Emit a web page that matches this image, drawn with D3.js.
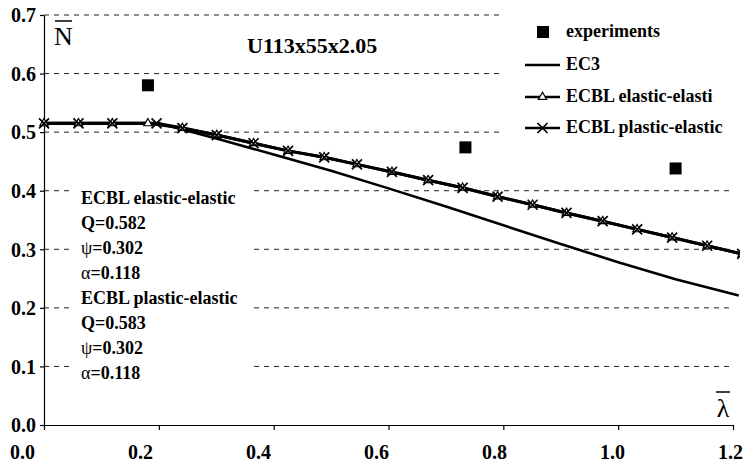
<!DOCTYPE html>
<html>
<head>
<meta charset="utf-8">
<script src="https://cdn.jsdelivr.net/npm/d3@7"></script>
<style>
  body { margin: 0; background: #fff; }
  text { font-family: "Liberation Serif", "DejaVu Serif", serif; fill: #000; }
</style>
</head>
<body>
<div id="chart"></div>
<script>
// values
const xTicks = [0, 0.2, 0.4, 0.6, 0.8, 1.0, 1.2];
const yTicks = [0, 0.1, 0.2, 0.3, 0.4, 0.5, 0.6, 0.7];

const experiments = [[0.181, 0.580], [0.734, 0.474], [1.100, 0.438]];

const ec3 = [[0, 0.515], [0.2, 0.515], [0.3, 0.489], [0.4, 0.462], [0.5, 0.434], [0.6, 0.404],
  [0.7, 0.373], [0.8, 0.341], [0.9, 0.309], [1.0, 0.278], [1.1, 0.249], [1.21, 0.221]];

const ecblElastic = [[0, 0.515], [0.060, 0.515], [0.119, 0.515], [0.181, 0.515], [0.241, 0.507],
  [0.301, 0.495], [0.365, 0.481], [0.425, 0.468], [0.488, 0.457], [0.545, 0.445], [0.606, 0.432],
  [0.669, 0.418], [0.729, 0.405], [0.790, 0.390], [0.851, 0.376], [0.910, 0.362], [0.973, 0.348],
  [1.033, 0.334], [1.094, 0.320], [1.155, 0.306], [1.216, 0.292]];

const ecblPlastic = [[0, 0.515], [0.060, 0.515], [0.119, 0.515], [0.196, 0.515], [0.241, 0.507],
  [0.301, 0.495], [0.365, 0.481], [0.425, 0.468], [0.488, 0.457], [0.545, 0.445], [0.606, 0.432],
  [0.669, 0.418], [0.729, 0.405], [0.790, 0.390], [0.851, 0.376], [0.910, 0.362], [0.973, 0.348],
  [1.033, 0.334], [1.094, 0.320], [1.155, 0.306], [1.216, 0.292]];

const legendItems = ["experiments", "EC3", "ECBL elastic-elasti", "ECBL plastic-elastic"];
const noteLines = [
  ["", "ECBL elastic-elastic"], ["", "Q=0.582"], ["\u03C8", "=0.302"], ["\u03B1", "=0.118"],
  ["", "ECBL plastic-elastic"], ["", "Q=0.583"], ["\u03C8", "=0.302"], ["\u03B1", "=0.118"]
];

const serif = '"Liberation Serif", "DejaVu Serif", serif';
const width = 746, height = 468;
const svg = d3.select("#chart").append("svg")
  .attr("width", width).attr("height", height);

const x = d3.scaleLinear().domain([0, 1.2]).range([44, 733]);
const y = d3.scaleLinear().domain([0, 0.7]).range([425, 15]);
// the tick labels in the scan sit on a slightly wider spread than the ticks
const xLab = d3.scaleLinear().domain([0, 1.2]).range([22, 730]);

svg.append("clipPath").attr("id", "plot")
  .append("rect").attr("x", 0).attr("y", 0).attr("width", 740).attr("height", 430);

// gridlines
svg.append("g").selectAll("line")
  .data(yTicks.filter(d => d > 0))
  .join("line")
  .attr("x1", x(0)).attr("x2", x(1.2))
  .attr("y1", d => y(d)).attr("y2", d => y(d))
  .attr("stroke", "#222").attr("stroke-width", 1)
  .attr("stroke-dasharray", "5,5");

// white boxes behind the text blocks hide the gridlines
svg.append("rect").attr("x", 503).attr("y", 0).attr("width", 243).attr("height", 150).attr("fill", "#fff");
svg.append("rect").attr("x", 73).attr("y", 182).attr("width", 181).attr("height", 212).attr("fill", "#fff");

// axes
const gx = svg.append("g").attr("transform", `translate(0,${y(0)})`)
  .call(d3.axisBottom(x).tickValues(xTicks).tickSize(5).tickSizeOuter(0).tickFormat(""));
gx.selectAll("path, line").attr("stroke", "#000").attr("stroke-width", 1.2);

const gxl = svg.append("g").attr("transform", `translate(0,${y(0)})`)
  .call(d3.axisBottom(xLab).tickValues(xTicks).tickSize(0).tickFormat(d3.format(".1f")));
gxl.select(".domain").remove();
gxl.selectAll("text").attr("y", 34).attr("dy", 0)
  .style("font-family", serif).style("font-weight", "bold").style("font-size", "20px");

const gy = svg.append("g").attr("transform", `translate(${x(0)},0)`)
  .call(d3.axisLeft(y).tickValues(yTicks).tickSize(4).tickSizeOuter(0).tickPadding(4).tickFormat(d3.format(".1f")));
gy.selectAll("path, line").attr("stroke", "#000").attr("stroke-width", 1.2);
gy.selectAll("text").attr("dy", "0.34em")
  .style("font-family", serif).style("font-weight", "bold").style("font-size", "20px");

// lines
const line = d3.line().x(d => x(d[0])).y(d => y(d[1]));
const plot = svg.append("g").attr("clip-path", "url(#plot)");

plot.append("path").datum(ec3).attr("d", line)
  .attr("fill", "none").attr("stroke", "#000").attr("stroke-width", 2.6);
plot.append("path").datum(ecblElastic).attr("d", line)
  .attr("fill", "none").attr("stroke", "#000").attr("stroke-width", 3);
plot.append("path").datum(ecblPlastic).attr("d", line)
  .attr("fill", "none").attr("stroke", "#000").attr("stroke-width", 3);

const triangle = d3.symbol().type(d3.symbolTriangle).size(30);
function drawTri(g, px, py) {
  g.append("path").attr("d", triangle())
    .attr("transform", `translate(${px},${py})`)
    .attr("fill", "#fff").attr("stroke", "#000").attr("stroke-width", 1.2);
}
function drawCross(g, px, py) {
  const r = 5;
  g.append("path").attr("d", `M${px - r},${py - r}L${px + r},${py + r}M${px - r},${py + r}L${px + r},${py - r}`)
    .attr("stroke", "#000").attr("stroke-width", 1.7).attr("fill", "none");
}

ecblElastic.forEach(d => drawTri(plot, x(d[0]), y(d[1])));
ecblPlastic.forEach(d => drawCross(plot, x(d[0]), y(d[1])));

plot.selectAll("rect.exp").data(experiments).join("rect")
  .attr("class", "exp")
  .attr("x", d => x(d[0]) - 6).attr("y", d => y(d[1]) - 6)
  .attr("width", 12).attr("height", 12).attr("fill", "#000");

// legend
const leg = svg.append("g");
const legY = [32, 65, 97, 128];
legendItems.forEach((name, i) => {
  const cy = legY[i];
  if (i === 0) {
    leg.append("rect").attr("x", 537).attr("y", cy - 6).attr("width", 12).attr("height", 12).attr("fill", "#000");
  } else {
    leg.append("line").attr("x1", 525).attr("x2", 560).attr("y1", cy).attr("y2", cy)
      .attr("stroke", "#000").attr("stroke-width", 2.6);
    if (i === 2) drawTri(leg, 542.5, cy);
    if (i === 3) drawCross(leg, 542.5, cy);
  }
  leg.append("text").attr("x", 566).attr("y", cy + 5)
    .style("font-weight", "bold").style("font-size", "18px").text(name);
});

// title and axis symbols
svg.append("text").attr("x", 247).attr("y", 53)
  .style("font-weight", "bold").style("font-size", "22px").text("U113x55x2.05");

svg.append("text").attr("x", 54).attr("y", 45)
  .style("font-size", "26px").text("N");
svg.append("line").attr("x1", 55).attr("x2", 72).attr("y1", 21).attr("y2", 21)
  .attr("stroke", "#000").attr("stroke-width", 1.5);

svg.append("text").attr("x", 723).attr("y", 417).attr("text-anchor", "middle")
  .style("font-size", "26px").text("\u03BB");
svg.append("line").attr("x1", 716).attr("x2", 730).attr("y1", 392).attr("y2", 392)
  .attr("stroke", "#000").attr("stroke-width", 1.5);

// parameter notes
const notes = svg.append("g");
noteLines.forEach((l, i) => {
  const t = notes.append("text").attr("x", 81).attr("y", 204 + i * 25)
    .style("font-weight", "bold").style("font-size", "18px");
  if (l[0]) t.append("tspan").style("font-weight", "normal").style("font-size", "18px").text(l[0]);
  t.append("tspan").text(l[1]);
});
</script>
</body>
</html>
